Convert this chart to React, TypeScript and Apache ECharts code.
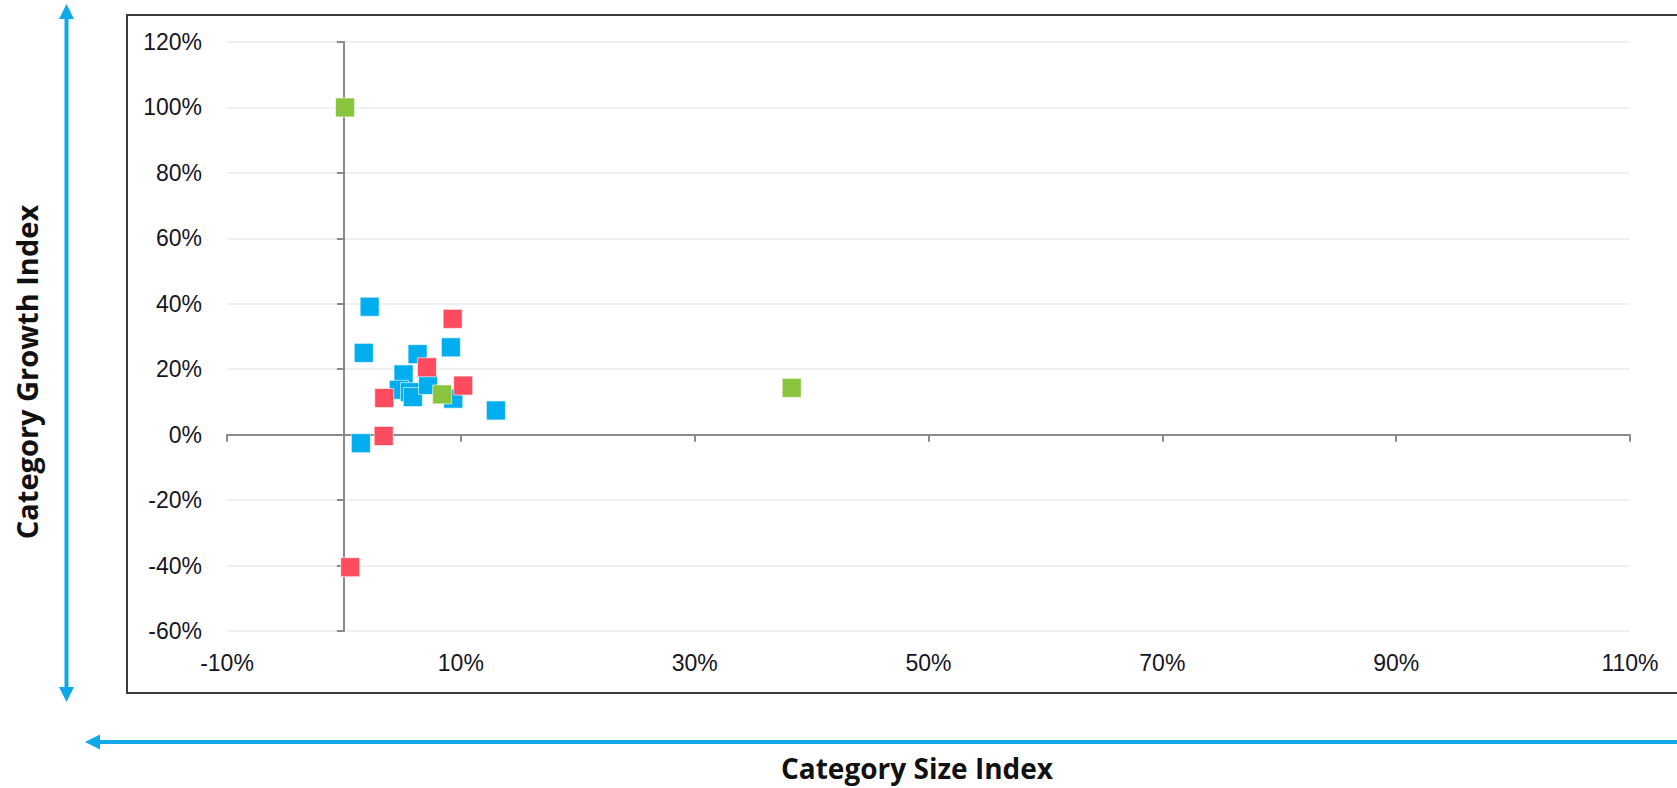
import React, { useEffect, useRef } from "react";
import * as echarts from "echarts";

// Tick values (percent)
const xTickValues = [-10, 10, 30, 50, 70, 90, 110];
const yMin = -60;
const yMax = 120;
const yStep = 20;

// Data points: [Category Size Index %, Category Growth Index %]
const bluePoints: [number, number][] = [
  [2.2, 39.1],
  [1.7, 25.0],
  [6.3, 24.6],
  [9.15, 26.7],
  [5.1, 18.4],
  [4.7, 13.7],
  [5.65, 13.0],
  [5.9, 11.5],
  [9.35, 11.0],
  [7.2, 15.2],
  [13.0, 7.4],
  [1.45, -2.6],
];
const redPoints: [number, number][] = [
  [0.54, -40.5],
  [9.3, 35.4],
  [7.1, 20.6],
  [10.2, 15.0],
  [3.45, 11.2],
  [3.4, -0.4],
];
const greenPoints: [number, number][] = [
  [0.1, 100.0],
  [38.3, 14.3],
  [8.4, 12.3],
];

const yTitle = "Category Growth Index";
const xTitle = "Category Size Index";

const ARROW = "#0FA9EA";
const LABEL_FONT = "'Liberation Sans', Arial, sans-serif";
const TITLE_FONT = "'Open Sans', 'Noto Sans', sans-serif";

export default function App() {
  const ref = useRef<HTMLDivElement>(null);

  useEffect(() => {
    if (!ref.current) return;
    const chart = echarts.init(ref.current, null, { renderer: "svg" });

    const labelStyle = {
      color: "#15151f",
      fontSize: 23,
      fontFamily: LABEL_FONT,
      formatter: (v: number) => `${v}%`,
    };
    const axisLineStyle = { color: "#8a8a8a", width: 2 };

    const symbolCommon = {
      type: "scatter" as const,
      symbol: "rect",
      symbolSize: 19,
      xAxisIndex: 0,
      yAxisIndex: 0,
      z: 5,
    };

    chart.setOption({
      animation: false,
      backgroundColor: "#ffffff",
      grid: { left: 227, right: 47, top: 42, bottom: 157, containLabel: false },
      xAxis: [
        {
          type: "value",
          position: "bottom",
          min: -10,
          max: 110,
          axisLine: { show: false, onZero: false },
          axisTick: { show: false },
          splitLine: { show: false },
          axisLabel: { ...labelStyle, margin: 20, customValues: xTickValues },
        },
        {
          type: "value",
          position: "bottom",
          min: -10,
          max: 110,
          axisLine: { show: true, onZero: true, onZeroAxisIndex: 0, lineStyle: axisLineStyle },
          axisTick: { show: true, length: 7, lineStyle: axisLineStyle, customValues: xTickValues },
          axisLabel: { show: false },
          splitLine: { show: false },
        },
      ],
      yAxis: [
        {
          type: "value",
          position: "left",
          min: yMin,
          max: yMax,
          interval: yStep,
          axisLine: { show: false, onZero: false },
          axisTick: { show: false },
          splitLine: { show: true, lineStyle: { color: "#ebebeb", width: 1.5 } },
          axisLabel: { ...labelStyle, margin: 25 },
        },
        {
          type: "value",
          position: "left",
          min: yMin,
          max: yMax,
          interval: yStep,
          axisLine: { show: true, onZero: true, onZeroAxisIndex: 0, lineStyle: axisLineStyle },
          axisTick: { show: true, length: 7, lineStyle: axisLineStyle },
          axisLabel: { show: false },
          splitLine: { show: false },
        },
      ],
      series: [
        {
          ...symbolCommon,
          name: "Blue",
          data: bluePoints,
          itemStyle: { color: "#00AEEF", borderColor: "#ffffff", borderWidth: 0.6, opacity: 1 },
        },
        {
          ...symbolCommon,
          name: "Red",
          data: redPoints,
          itemStyle: { color: "#FF4B5E", borderColor: "#ffffff", borderWidth: 0.6, opacity: 1 },
        },
        {
          ...symbolCommon,
          name: "Green",
          data: greenPoints,
          itemStyle: { color: "#8AC43D", borderColor: "#ffffff", borderWidth: 0.6, opacity: 1 },
        },
      ],
      graphic: [
        {
          type: "rect",
          shape: { x: 127, y: 15, width: 1600, height: 678 },
          style: { fill: "none", stroke: "#3a3a3a", lineWidth: 2 },
          z: -1,
          silent: true,
        },
        // vertical double arrow
        {
          type: "line",
          shape: { x1: 66.5, y1: 18, x2: 66.5, y2: 690 },
          style: { stroke: ARROW, lineWidth: 4 },
          silent: true,
        },
        {
          type: "polygon",
          shape: { points: [[66.5, 4], [59, 19], [74, 19]] },
          style: { fill: ARROW },
          silent: true,
        },
        {
          type: "polygon",
          shape: { points: [[66.5, 702], [59, 687], [74, 687]] },
          style: { fill: ARROW },
          silent: true,
        },
        // horizontal arrow
        {
          type: "line",
          shape: { x1: 98, y1: 742, x2: 1680, y2: 742 },
          style: { stroke: ARROW, lineWidth: 4 },
          silent: true,
        },
        {
          type: "polygon",
          shape: { points: [[85, 742], [100, 734.5], [100, 749.5]] },
          style: { fill: ARROW },
          silent: true,
        },
        // titles
        {
          type: "text",
          x: 26,
          y: 372,
          rotation: Math.PI / 2,
          style: {
            text: yTitle,
            fill: "#111111",
            font: `bold 29px ${TITLE_FONT}`,
            align: "center",
            verticalAlign: "middle",
          },
          silent: true,
        },
        {
          type: "text",
          x: 917,
          y: 768,
          style: {
            text: xTitle,
            fill: "#111111",
            font: `bold 28px ${TITLE_FONT}`,
            lineHeight: 30,
            align: "center",
            verticalAlign: "middle",
          },
          silent: true,
        },
      ],
    });

    return () => chart.dispose();
  }, []);

  return (
    <div
      ref={ref}
      style={{ position: "fixed", left: 0, top: 0, width: 1677, height: 788, background: "#fff" }}
    />
  );
}
